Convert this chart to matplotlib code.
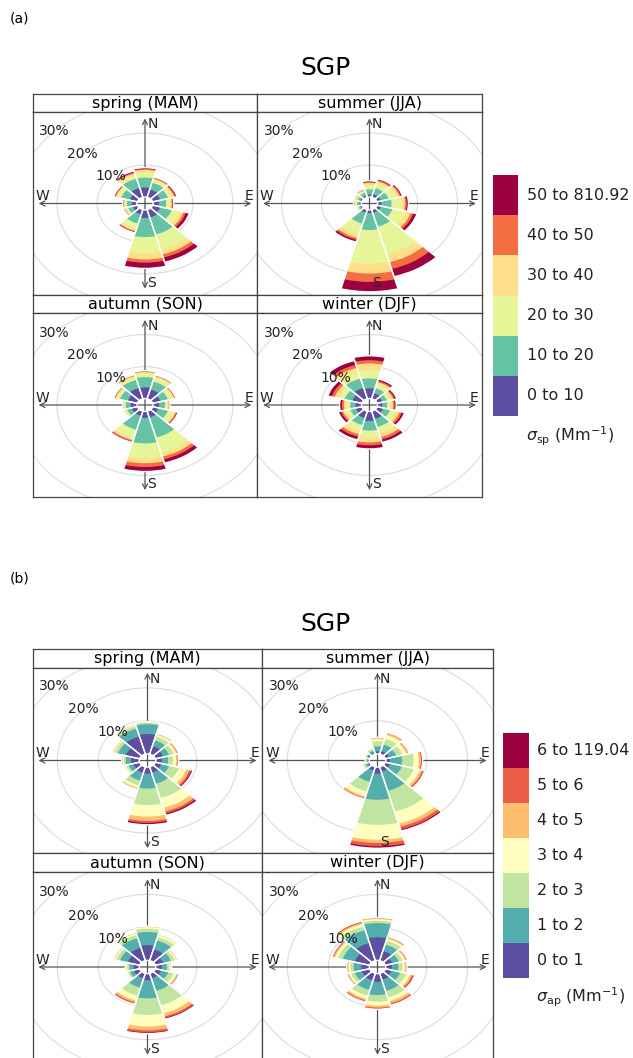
import numpy as np
import matplotlib
matplotlib.use("Agg")
import matplotlib.pyplot as plt
from matplotlib.patches import Wedge, Circle

plt.rcParams['font.family'] = ['DejaVu Sans']

# wind sectors (degrees from north, clockwise)
directions = [0, 30, 60, 90, 120, 150, 180, 210, 240, 270, 300, 330]
seasons = ["spring (MAM)", "summer (JJA)", "autumn (SON)", "winter (DJF)"]

# (a) scattering coefficient bins, frequency (%) per sector and bin
sp_labels = ["0 to 10", "10 to 20", "20 to 30", "30 to 40", "40 to 50", "50 to 810.92"]
sp_spring = [[3.0, 3.1, 1.7, 0.7, 0.3, 0.4], [2.5, 2.2, 0.9, 0.4, 0.2, 0.3],
             [2.0, 2.0, 1.1, 0.5, 0.3, 0.4], [1.5, 1.8, 1.0, 0.4, 0.2, 0.3],
             [2.0, 3.0, 2.0, 1.0, 0.6, 0.9], [2.5, 5.5, 5.0, 1.5, 1.0, 1.5],
             [2.5, 6.0, 5.0, 2.0, 1.0, 1.8], [1.5, 3.0, 1.8, 0.6, 0.3, 0.3],
             [1.2, 1.2, 0.6, 0.3, 0.1, 0.2], [1.3, 1.2, 0.6, 0.2, 0.1, 0.2],
             [2.0, 2.2, 1.0, 0.4, 0.2, 0.3], [3.0, 3.0, 1.2, 0.5, 0.3, 0.5]]
sp_summer = [[0.8, 1.6, 1.4, 0.6, 0.3, 0.4], [1.0, 2.0, 1.6, 0.6, 0.4, 0.4],
             [1.0, 2.0, 2.0, 0.8, 0.4, 0.4], [1.0, 2.5, 2.5, 0.9, 0.4, 0.45],
             [1.0, 3.0, 3.5, 1.2, 0.7, 0.9], [1.0, 4.5, 9.0, 2.5, 2.2, 2.5],
             [1.0, 5.3, 10.5, 3.1, 2.6, 3.1], [1.0, 3.5, 3.5, 1.2, 0.6, 0.7],
             [0.4, 0.5, 0.4, 0.15, 0.1, 0.05], [0.5, 0.6, 0.5, 0.2, 0.1, 0.1],
             [0.5, 0.7, 0.5, 0.2, 0.1, 0.1], [0.6, 0.9, 0.6, 0.25, 0.15, 0.2]]
sp_autumn = [[3.5, 3.2, 1.2, 0.4, 0.2, 0.2], [3.0, 2.6, 1.3, 0.4, 0.2, 0.2],
             [2.0, 2.0, 1.2, 0.4, 0.2, 0.2], [1.5, 1.5, 0.7, 0.25, 0.15, 0.15],
             [1.5, 2.5, 1.5, 0.5, 0.3, 0.3], [2.0, 6.5, 5.0, 1.2, 0.9, 1.2],
             [2.0, 8.0, 4.7, 1.5, 1.2, 1.4], [1.5, 4.5, 2.8, 0.6, 0.4, 0.3],
             [1.5, 1.2, 0.5, 0.1, 0.1, 0.1], [1.6, 1.2, 0.5, 0.1, 0.1, 0.1],
             [2.5, 2.0, 0.9, 0.3, 0.2, 0.2], [3.5, 2.6, 1.0, 0.3, 0.2, 0.2]]
sp_winter = [[3.2, 3.1, 2.6, 2.1, 1.0, 1.4], [1.8, 1.6, 1.2, 0.8, 0.4, 0.6],
             [1.3, 1.3, 1.0, 0.6, 0.4, 0.5], [1.2, 1.2, 0.9, 0.6, 0.4, 0.4],
             [1.6, 1.8, 1.4, 1.0, 0.6, 0.7], [2.5, 2.6, 2.0, 1.3, 0.8, 0.9],
             [3.0, 3.0, 2.2, 1.5, 0.9, 1.15], [2.2, 2.3, 1.8, 1.2, 0.8, 1.0],
             [1.6, 1.4, 1.1, 0.8, 0.5, 0.7], [1.5, 1.3, 1.0, 0.6, 0.5, 0.6],
             [2.5, 2.0, 1.5, 1.0, 0.8, 1.0], [3.5, 3.0, 2.0, 1.5, 1.0, 1.4]]

# (b) absorption coefficient bins
ap_labels = ["0 to 1", "1 to 2", "2 to 3", "3 to 4", "4 to 5", "5 to 6", "6 to 119.04"]
ap_spring = [[6.0, 3.0, 0.4, 0.2, 0.1, 0.05, 0.05], [2.5, 1.8, 1.2, 0.6, 0.2, 0.1, 0.1],
             [2.0, 1.5, 1.2, 0.6, 0.3, 0.2, 0.1], [1.5, 1.5, 1.2, 0.8, 0.3, 0.2, 0.1],
             [1.5, 2.0, 2.5, 1.8, 0.8, 0.5, 0.4], [1.8, 3.5, 4.5, 3.0, 1.2, 0.6, 0.6],
             [2.0, 4.5, 5.0, 3.5, 1.3, 0.6, 0.6], [1.8, 2.5, 1.5, 0.8, 0.3, 0.1, 0.1],
             [1.6, 1.2, 0.6, 0.3, 0.1, 0.05, 0.05], [2.0, 1.3, 0.5, 0.25, 0.1, 0.1, 0.05],
             [3.5, 2.0, 0.8, 0.3, 0.15, 0.1, 0.05], [5.5, 2.5, 0.7, 0.3, 0.15, 0.1, 0.05]]
ap_summer = [[0.8, 1.5, 1.5, 0.7, 0.3, 0.1, 0.1], [1.0, 2.0, 1.8, 1.2, 0.5, 0.2, 0.1],
             [1.0, 1.8, 1.5, 1.0, 0.4, 0.2, 0.1], [1.0, 3.0, 2.8, 1.3, 0.5, 0.2, 0.2],
             [1.2, 3.0, 3.0, 1.5, 0.6, 0.4, 0.2], [1.5, 6.0, 6.5, 3.8, 1.0, 0.8, 0.5],
             [2.0, 7.9, 7.6, 4.5, 1.0, 1.0, 0.6], [1.2, 3.5, 3.0, 1.5, 0.5, 0.3, 0.1],
             [0.5, 0.6, 0.5, 0.2, 0.1, 0.05, 0.05], [0.3, 0.3, 0.2, 0.1, 0.05, 0.03, 0.02],
             [0.4, 0.4, 0.3, 0.1, 0.05, 0.03, 0.02], [0.5, 0.6, 0.5, 0.2, 0.1, 0.05, 0.05]]
ap_autumn = [[4.6, 4.0, 1.0, 0.5, 0.15, 0.1, 0.05], [3.5, 2.8, 1.0, 0.6, 0.15, 0.1, 0.05],
             [2.0, 2.0, 0.9, 0.4, 0.15, 0.1, 0.05], [1.5, 1.2, 0.6, 0.35, 0.1, 0.1, 0.05],
             [1.5, 1.8, 1.3, 0.8, 0.3, 0.2, 0.1], [1.5, 4.0, 4.5, 2.5, 1.0, 0.5, 0.4],
             [2.0, 5.5, 5.0, 3.5, 1.2, 0.6, 0.4], [1.5, 3.0, 2.5, 1.5, 0.6, 0.4, 0.2],
             [1.5, 1.0, 0.5, 0.25, 0.1, 0.03, 0.02], [1.4, 1.0, 0.5, 0.3, 0.1, 0.05, 0.05],
             [3.0, 2.0, 0.9, 0.4, 0.15, 0.1, 0.05], [4.0, 3.0, 1.0, 0.5, 0.15, 0.1, 0.05]]
ap_winter = [[7.0, 4.3, 0.7, 0.5, 0.25, 0.15, 0.1], [3.0, 2.0, 1.2, 0.7, 0.3, 0.2, 0.1],
             [1.8, 1.6, 1.0, 0.6, 0.3, 0.2, 0.1], [1.5, 1.6, 1.0, 0.6, 0.3, 0.15, 0.05],
             [1.6, 2.2, 1.5, 1.0, 0.5, 0.35, 0.25], [2.0, 3.5, 2.0, 1.2, 0.7, 0.4, 0.2],
             [2.5, 4.0, 2.0, 1.2, 0.6, 0.3, 0.2], [2.2, 3.0, 1.8, 1.0, 0.5, 0.3, 0.2],
             [2.0, 1.8, 0.9, 0.6, 0.25, 0.15, 0.1], [2.0, 1.8, 0.8, 0.5, 0.2, 0.1, 0.1],
             [3.8, 3.0, 1.2, 0.7, 0.4, 0.25, 0.15], [5.5, 4.0, 1.2, 0.8, 0.4, 0.3, 0.2]]

rings = [10, 20, 30, 40]
OFF = 2.0  # size of the hole in the middle (%)
L = 26.6   # length of the N-S / W-E axis lines

W, H = 633, 1058
fig = plt.figure(figsize=(W / 100, H / 100), dpi=100)


def fax(x0, y0, x1, y1):
    return fig.add_axes([x0 / W, 1 - y1 / H, (x1 - x0) / W, (y1 - y0) / H])


def frame(ax):
    ax.set_xticks([])
    ax.set_yticks([])
    for s in ax.spines.values():
        s.set_color("#444444")
        s.set_linewidth(0.9)


def strip(x0, y0, x1, y1, title):
    ax = fax(x0, y0, x1, y1)
    frame(ax)
    ax.text(0.5, 0.48, title, transform=ax.transAxes, ha="center", va="center",
            fontsize=11.5)


def rose(x0, y0, x1, y1, kh, kv, data, colors):
    ax = fax(x0, y0, x1, y1)
    frame(ax)
    ax.set_xlim(-(x1 - x0) / 2 / kh, (x1 - x0) / 2 / kh)
    ax.set_ylim(-(y1 - y0) / 2 / kv, (y1 - y0) / 2 / kv)
    for v in rings:
        ax.add_patch(Circle((0, 0), OFF + v, fill=False, edgecolor="#dcdcdc", lw=0.8, zorder=1))
        p = (OFF + v) / np.sqrt(2)
        ax.text(-p, p, f"{v}%", ha="center", va="center", fontsize=10, color="#222222",
                clip_on=True, zorder=4)
    for xy in [((0, L), (0, -L)), ((L, 0), (-L, 0))]:
        ax.annotate("", xy=xy[0], xytext=xy[1],
                    arrowprops=dict(arrowstyle="<->", color="#555555", lw=0.9,
                                    shrinkA=0, shrinkB=0, mutation_scale=9), zorder=1)
    ax.text(0.6, L + 0.3, "N", ha="left", va="top", fontsize=10, color="#222222")
    ax.text(0.6, -L - 0.3, "S", ha="left", va="bottom", fontsize=10, color="#222222")
    ax.text(-L - 0.8, 0.1, "W", ha="left", va="bottom", fontsize=10, color="#222222")
    ax.text(L + 0.6, 0.1, "E", ha="right", va="bottom", fontsize=10, color="#222222")
    for d, bins in zip(directions, data):
        t1, t2 = 90 - d - 15, 90 - d + 15
        cum = OFF + np.cumsum(bins)
        # outermost first so the inner bins cover it (no seams)
        for c, r in reversed(list(zip(colors, cum))):
            ax.add_patch(Wedge((0, 0), r, t1, t2, width=r - OFF, facecolor=c,
                               edgecolor="none", zorder=2))
        ax.add_patch(Wedge((0, 0), cum[-1], t1, t2, width=cum[-1] - OFF, fill=False,
                           edgecolor="white", lw=1.0, zorder=3))


def legend(x0, y0, x1, y1, tx, labels, colors):
    ax = fax(x0, y0, x1, y1)
    ax.set_xlim(0, 1)
    ax.set_ylim(0, len(labels))
    ax.bar(0.5, 1, width=1, bottom=np.arange(len(labels)), color=colors)
    for i, lab in enumerate(labels):
        ax.text(tx, i + 0.5, lab, ha="left", va="center", fontsize=11.5, color="#222222",
                clip_on=False)
    ax.axis("off")


def panel(letter, ly, ty, cols, rows, kh, kv, datasets, labels, leg, sig):
    colors = plt.cm.Spectral_r(np.linspace(0, 1, len(labels)))
    fig.text(10 / W, 1 - ly / H, letter, fontsize=10, va="center", ha="left")
    fig.text(325 / W, 1 - ty / H, "SGP", fontsize=18, ha="center", va="center")
    k = 0
    for (s0, s1, p0, p1) in rows:
        for (c0, c1) in cols:
            strip(c0, s0, c1, s1, seasons[k])
            rose(c0, p0, c1, p1, kh, kv, datasets[k], colors)
            k += 1
    legend(*leg, labels, colors)
    fig.text(sig[0] / W, 1 - sig[1] / H, sig[2], fontsize=11.5, ha="left", va="center",
             color="#222222")


panel("(a)", 18, 68, [(33, 257), (257, 482)],
      [(94, 112, 112, 295), (295, 313, 313, 497)], 4.0, 3.2,
      [sp_spring, sp_summer, sp_autumn, sp_winter], sp_labels,
      (493, 175, 518, 416, 1.36), (526, 436, r"$\sigma_{\rm sp}$ (Mm$^{-1}$)"))

panel("(b)", 578, 624, [(33, 262), (262, 493)],
      [(649, 668, 668, 853), (853, 872, 872, 1062)], 4.1, 3.3,
      [ap_spring, ap_summer, ap_autumn, ap_winter], ap_labels,
      (503, 733, 529, 978, 1.31), (536, 997, r"$\sigma_{\rm ap}$ (Mm$^{-1}$)"))

fig.savefig("out.png", dpi=100)
